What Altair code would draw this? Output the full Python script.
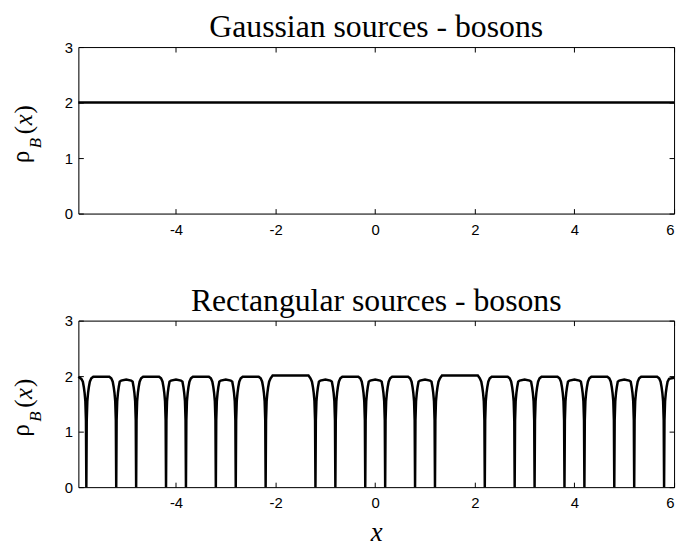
import altair as alt
import pandas as pd

# ---------------- data ----------------
X_DOMAIN = [-5.96, 6.0]
Y_DOMAIN = [0, 3]
X_TICKS = [-4, -2, 0, 2, 4, 6]
Y_TICKS = [0, 1, 2, 3]

# top panel: constant density
GAUSS_X = [-5.96, 6.0]
GAUSS_Y = [2.0, 2.0]

# bottom panel: positions of the sharp dips to zero
DIP_CENTERS = [-5.8, -5.2, -4.8, -4.2, -3.8, -3.2, -2.8, -2.2, -1.2, -0.8, -0.2,
               0.2, 0.8, 1.2, 2.2, 2.8, 3.2, 3.8, 4.2, 4.8, 5.2, 5.8]
# profile of one dip (offset from centre, value)
DIP_OFFSETS = [-0.07, -0.05, -0.035, -0.02, -0.008, 0.0, 0.008, 0.02, 0.035, 0.05, 0.07]
DIP_VALUES = [1.90, 1.80, 1.70, 1.55, 1.20, 0.0, 1.20, 1.55, 1.70, 1.80, 1.90]
# tops between dips: small humps, medium and wide plateaus
HUMP_SHOULDER = 1.92
HUMP_PEAK = 1.94
PLATEAU_SHOULDER = 1.96
MEDIUM_PEAK = 1.99
WIDE_PEAK = 2.01
# the two ends of the curve
EDGE_X = [-5.96, -5.9, 5.9, 6.0]
EDGE_Y = [1.99, 1.95, 1.95, 1.97]

# ---------------- build tables ----------------
rx, ry = list(EDGE_X), list(EDGE_Y)
for c in DIP_CENTERS:
    for o, v in zip(DIP_OFFSETS, DIP_VALUES):
        rx.append(round(c + o, 4))
        ry.append(v)
for a, b in zip(DIP_CENTERS[:-1], DIP_CENTERS[1:]):
    gap = b - a
    if gap < 0.5:
        rx += [a + 0.1, (a + b) / 2, b - 0.1]
        ry += [HUMP_SHOULDER, HUMP_PEAK, HUMP_SHOULDER]
    else:
        peak = MEDIUM_PEAK if gap < 0.8 else WIDE_PEAK
        rx += [a + 0.1, a + 0.14, b - 0.14, b - 0.1]
        ry += [PLATEAU_SHOULDER, peak, peak, PLATEAU_SHOULDER]

rect_df = pd.DataFrame({"x": rx, "y": ry}).sort_values("x")
gauss_df = pd.DataFrame({"x": GAUSS_X, "y": GAUSS_Y})

W, H = 601, 168
SERIF = "Liberation Serif"
SANS = "Liberation Sans"
INWARD = {"expr": "-5"}


def axis(orient, labels=True, flush=False, **kw):
    return alt.Axis(orient=orient, labels=labels, tickSize=INWARD,
                    domain=True, domainColor="black", domainWidth=1,
                    grid=False, ticks=True, tickColor="black", tickWidth=1,
                    labelFont=SANS, labelFontSize=15, labelColor="black",
                    labelFlush=flush, labelExpr="'' + datum.value",
                    minExtent=0, **kw)


def ylabel_layers():
    t = pd.DataFrame({"d": [0]})
    base = alt.Chart(t)
    parts = [
        ("\u03c1", -50, 117, 25, "normal"),
        ("B", -38, 102, 17, "italic"),
        ("(", -47, 88, 25, "normal"),
        ("x", -47, 79, 25, "italic"),
        (")", -47, 67, 25, "normal"),
    ]
    out = []
    for txt, px, py, fs, st in parts:
        out.append(base.mark_text(text=txt, angle=270, align="left", baseline="alphabetic",
                                  font=SERIF, fontSize=fs, fontStyle=st, color="black")
                   .encode(x=alt.value(px), y=alt.value(py)))
    return out


def panel(df, title, xtitle=None):
    xs = alt.Scale(domain=X_DOMAIN, nice=False, zero=False)
    ys = alt.Scale(domain=Y_DOMAIN, nice=False, zero=False)
    if xtitle:
        xkw = dict(title=xtitle, titleFont=SERIF, titleFontSize=27, titleFontStyle="italic",
                   titleFontWeight="normal", titleColor="black", titlePadding=9)
    else:
        xkw = dict(title=None)
    main = alt.Chart(df).mark_line(color="black", strokeWidth=2.5).encode(
        x=alt.X("x:Q", scale=xs,
                axis=axis("bottom", flush=True, labelFlushOffset=0, values=X_TICKS,
                          labelPadding=14, **xkw)),
        y=alt.Y("y:Q", scale=ys, axis=axis("left", values=Y_TICKS, labelPadding=11, title=None)),
    )
    frame = alt.Chart(df).mark_line(strokeOpacity=0).encode(
        x=alt.X("x:Q", scale=xs, axis=axis("top", labels=False, values=X_TICKS, title=None,
                                           maxExtent=0)),
        y=alt.Y("y:Q", scale=ys, axis=axis("right", labels=False, values=Y_TICKS, title=None,
                                           maxExtent=0)),
    )
    return alt.layer(main, frame, *ylabel_layers()).resolve_axis(
        x="independent", y="independent"
    ).properties(
        width=W, height=H,
        title=alt.TitleParams(title, font=SERIF, fontSize=32, fontWeight="normal",
                              color="black", anchor="middle", offset=-4),
    )


top = panel(gauss_df, "Gaussian sources - bosons")
bottom = panel(rect_df, "Rectangular sources - bosons", xtitle="x")

chart = alt.vconcat(top, bottom, spacing=46).properties(
    padding={"left": 0, "top": 0, "right": 0, "bottom": 0}
).configure_view(strokeWidth=0).configure(background="white")

chart.save("out.html", embed_options={"renderer": "svg", "actions": False})
